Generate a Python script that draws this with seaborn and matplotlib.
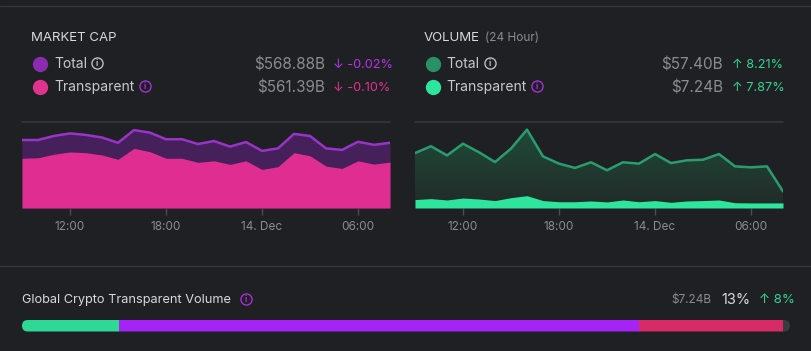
import numpy as np
import pandas as pd
import seaborn as sns
import matplotlib.pyplot as plt
import matplotlib.dates as mdates
from matplotlib.lines import Line2D
from matplotlib.patches import FancyBboxPatch
from matplotlib.colors import LinearSegmentedColormap

# hourly points, 13 Dec 09:00 -> 14 Dec 08:00
times = pd.date_range("2023-12-13 09:00", periods=24, freq="h")

# market cap (billions)
cap_total = [569.9, 569.9, 571.5, 572.5, 571.9, 570.9, 568.8, 573.8, 572.8, 570.2, 570.2, 568.3,
             569.5, 567.3, 569.1, 565.6, 566.6, 572.3, 571.5, 566.6, 566.0, 569.2, 568.0, 568.8]
cap_transparent = [562.7, 562.9, 564.3, 565.2, 564.9, 564.0, 562.3, 566.6, 565.3, 562.7, 562.7, 561.1,
                   561.7, 560.3, 561.7, 558.3, 559.4, 564.9, 563.7, 559.6, 558.7, 561.7, 560.4, 561.2]

# hourly volume (billions)
vol_total = [2.81, 3.16, 2.69, 3.29, 2.85, 2.35, 3.04, 4.01, 2.64, 2.27, 2.05, 2.34,
             1.93, 2.34, 2.27, 2.76, 2.30, 2.44, 2.47, 2.76, 2.13, 2.08, 2.13, 0.85]
vol_transparent = [0.43, 0.48, 0.41, 0.51, 0.46, 0.38, 0.53, 0.63, 0.38, 0.32, 0.32, 0.36,
                   0.31, 0.41, 0.32, 0.38, 0.29, 0.36, 0.38, 0.41, 0.27, 0.26, 0.26, 0.26]

tick_times = pd.to_datetime(["2023-12-13 12:00", "2023-12-13 18:00", "2023-12-14 00:00", "2023-12-14 06:00"])
tick_labels = ["12:00", "18:00", "14. Dec", "06:00"]

# share bar (percent)
share_labels = ["Transparent", "Other", "Unverified", "Unknown"]
share_values = [12.6, 67.7, 18.8, 0.9]
share_colors = ["#2ed895", "#a524f5", "#d92a68", "#3a3b3e"]

BG = "#1f2023"
RULE = "#36373b"
TXT = "#d9d9db"
GREY = "#8b8c90"

sns.set_theme(style="dark")
plt.rcParams["font.family"] = ["Inter", "DejaVu Sans"]

W, H = 811, 351
fig = plt.figure(figsize=(W / 100, H / 100), dpi=100, facecolor=BG)


def fx(x):
    return x / W


def fy(y):
    return 1 - y / H


def ftext(x, y, s, **kw):
    kw.setdefault("va", "center")
    fig.text(fx(x), fy(y), s, **kw)


def dot(x, y, color, size=10):
    fig.add_artist(Line2D([fx(x)], [fy(y)], marker="o", ms=size, mfc=color, mec=color,
                          lw=0, transform=fig.transFigure))


def info(x, y, color):
    fig.add_artist(Line2D([fx(x)], [fy(y)], marker="o", ms=8, mfc="none", mec=color, mew=1.0,
                          lw=0, transform=fig.transFigure))
    ftext(x, y + 0.3, "i", color=color, fontsize=6, ha="center", fontweight="bold")


# separators
for yy in (6, 266):
    fig.add_artist(Line2D([0, 1], [fy(yy), fy(yy)], color=RULE, lw=1, transform=fig.transFigure))


def area_axes(x0):
    ax = fig.add_axes([fx(x0), fy(208), 368 / W, 86 / H])
    ax.set_facecolor("none")
    for s in ax.spines.values():
        s.set_visible(False)
    ax.tick_params(axis="x", colors="#4a4b4f", labelcolor=GREY, labelsize=8.5,
                   length=5, width=1, pad=4, bottom=True)
    ax.set_yticks([])
    ax.grid(False)
    return ax


def finish_axes(ax):
    ax.set_xlim(times[0], times[-1])
    ax.set_xticks(tick_times)
    ax.set_xticklabels(tick_labels)
    ax.set_xlabel("")
    ax.set_ylabel("")


# ---------------- market cap ----------------
ax1 = area_axes(22)
ymin1, ymax1 = 543.1, 577.0
ax1.set_ylim(ymin1, ymax1)
ax1.axhline(ymax1, color=RULE, lw=1.2, clip_on=False)
ax1.fill_between(times, ymin1, cap_total, color="#45205a", lw=0)
ax1.fill_between(times, ymin1, cap_transparent, color="#e02d91", lw=0)
sns.lineplot(x=times, y=cap_total, ax=ax1, color="#9a33c8", lw=1.8)
finish_axes(ax1)

# ---------------- volume ----------------
ax2 = area_axes(415)
ymax2 = 4.4
ax2.set_ylim(0, ymax2)
ax2.axhline(ymax2, color=RULE, lw=1.2, clip_on=False)
poly = ax2.fill_between(times, 0, vol_total, color="none", lw=0)
grad = LinearSegmentedColormap.from_list("g", ["#222a27", "#1f4b3a"])
xnum = mdates.date2num(times)
img = ax2.imshow(np.linspace(0, 1, 100).reshape(-1, 1), cmap=grad, aspect="auto",
                 extent=[xnum[0], xnum[-1], 0, max(vol_total)], origin="lower", zorder=1)
img.set_clip_path(poly.get_paths()[0], transform=ax2.transData)
ax2.fill_between(times, 0, vol_transparent, color="#2ee59d", lw=0, zorder=2)
sns.lineplot(x=times, y=vol_total, ax=ax2, color="#2a9d6f", lw=1.8, zorder=3)
ax2.set_ylim(0, ymax2)
finish_axes(ax2)

# ---------------- headers ----------------
ftext(31, 38, "MARKET CAP", color=TXT, fontsize=9.5)
dot(40, 64, "#8a2bb0")
dot(40, 87, "#e0338f")
ftext(54, 64, "Total", color="#c9c9cc", fontsize=10)
ftext(54, 87, "Transparent", color="#c9c9cc", fontsize=10)
info(97, 63, "#bdbdc0")
info(145, 86, "#a52fd8")
ftext(325, 65, "$568.88B", color=GREY, fontsize=11, ha="right")
ftext(325, 88, "$561.39B", color=GREY, fontsize=11, ha="right")
ftext(333, 65, "↓ -0.02%", color="#b535e8", fontsize=9.2)
ftext(333, 88, "↓ -0.10%", color="#e0318f", fontsize=9.2)

ftext(424, 38, "VOLUME", color=TXT, fontsize=9.5)
ftext(485, 38, "(24 Hour)", color=GREY, fontsize=8.5)
dot(433, 64, "#2a9068")
dot(433, 87, "#2ee59d")
ftext(446, 64, "Total", color="#c9c9cc", fontsize=10)
ftext(446, 87, "Transparent", color="#c9c9cc", fontsize=10)
info(490, 63, "#bdbdc0")
info(537, 86, "#a52fd8")
ftext(723, 65, "$57.40B", color=GREY, fontsize=11, ha="right")
ftext(723, 88, "$7.24B", color=GREY, fontsize=11, ha="right")
ftext(732, 65, "↑ 8.21%", color="#35d38f", fontsize=9.2)
ftext(732, 88, "↑ 7.87%", color="#35d38f", fontsize=9.2)

# ---------------- share bar ----------------
ftext(22, 300, "Global Crypto Transparent Volume", color=TXT, fontsize=9.2)
info(246, 299, "#a52fd8")
ftext(711, 300, "$7.24B", color=GREY, fontsize=8.5, ha="right")
ftext(721, 300, "13%", color=TXT, fontsize=10.5)
ftext(759, 300, "↑ 8%", color="#35d38f", fontsize=9.5)

bar_w, bar_h = 768, 11.5
ax3 = fig.add_axes([fx(22), fy(331.5), bar_w / W, bar_h / H])
ax3.set_facecolor("none")
ax3.set_xlim(0, sum(share_values))
ax3.set_ylim(-0.5, 0.5)
ax3.axis("off")
r = (bar_h / 2) / bar_w
clip = FancyBboxPatch((0, 0), 1, 1, boxstyle=f"round,pad=0,rounding_size={r}",
                      mutation_aspect=0.5 / r, transform=ax3.transAxes,
                      facecolor="none", edgecolor="none")
ax3.add_patch(clip)
left = 0
for lab, val, col in zip(share_labels, share_values, share_colors):
    b = ax3.barh([0], [val], left=left, height=1.0, color=col, lw=0, label=lab)
    for p in b.patches:
        p.set_clip_path(clip)
    left += val

fig.savefig("out.png", dpi=100, facecolor=BG)
